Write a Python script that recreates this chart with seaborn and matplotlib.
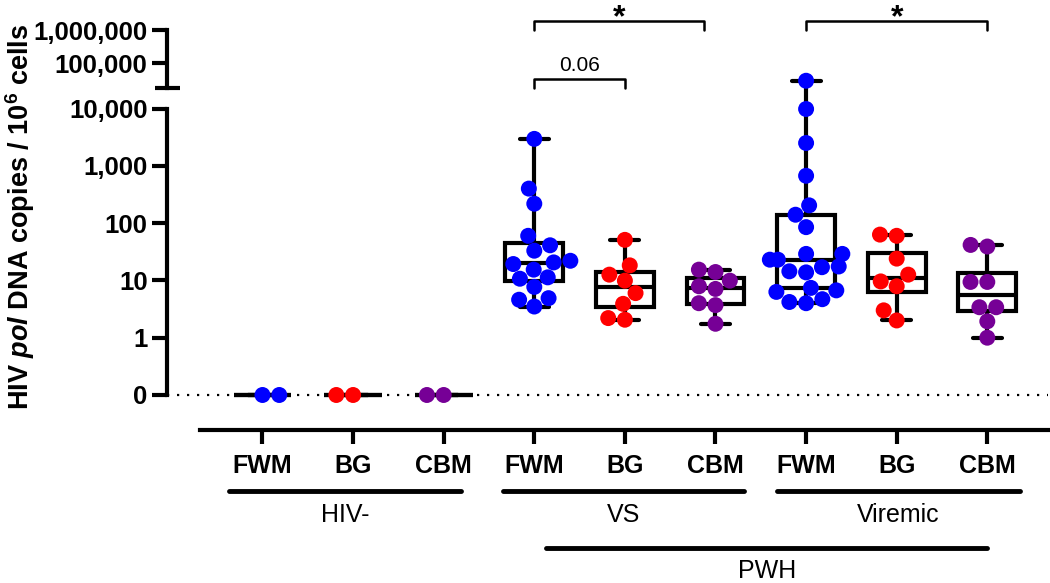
# HIV pol DNA by tissue - box + swarm on a broken log axis
import pandas as pd
import matplotlib.pyplot as plt
import matplotlib.transforms as mtransforms
from matplotlib.ticker import NullFormatter
import seaborn as sns

# categories
tissues = ["FWM", "BG", "CBM"]
cohorts = ["HIV-", "VS", "Viremic"]
tissue_colors = {"FWM": "#0000FF", "BG": "#FF0000", "CBM": "#760096"}

# copies / 10^6 cells (0 = undetected)
hivneg_fwm = [0, 0]
hivneg_bg = [0, 0]
hivneg_cbm = [0, 0]
vs_fwm = [2950, 400, 218, 60, 41, 33, 22, 20.6, 19.3, 15.4, 11.3, 10.7, 7.7, 4.9, 4.6, 3.5]
vs_bg = [51, 18.3, 12.6, 9.9, 6.0, 3.9, 2.2, 2.06]
vs_cbm = [15.4, 14.0, 9.9, 7.9, 7.1, 4.0, 3.7, 1.75]
vir_fwm = [30500, 9800, 2500, 670, 204, 140, 85, 29, 29, 23, 23, 17.5, 17, 14.4, 13.8,
           7.4, 6.7, 6.3, 4.7, 4.2, 4.0]
vir_bg = [63, 60, 24, 12.6, 9.6, 7.9, 3.0, 2.0]
vir_cbm = [41.6, 39, 9.4, 9.4, 3.4, 3.4, 1.93, 1.0]

# y tick labels
low_ticks = [0.1, 1, 10, 100, 1000, 10000]
low_labels = ["0", "1", "10", "100", "1,000", "10,000"]
high_ticks = [1e5, 1e6]
high_labels = ["100,000", "1,000,000"]

ZERO_AT = 0.1  # the "0" row sits one decade under 1

groups = {
    ("HIV-", "FWM"): hivneg_fwm, ("HIV-", "BG"): hivneg_bg, ("HIV-", "CBM"): hivneg_cbm,
    ("VS", "FWM"): vs_fwm, ("VS", "BG"): vs_bg, ("VS", "CBM"): vs_cbm,
    ("Viremic", "FWM"): vir_fwm, ("Viremic", "BG"): vir_bg, ("Viremic", "CBM"): vir_cbm,
}
rows = []
for (cohort, tissue), vals in groups.items():
    for v in vals:
        rows.append({"group": f"{cohort} {tissue}", "tissue": tissue,
                     "value": v if v > 0 else ZERO_AT})
df = pd.DataFrame(rows)
order = [f"{c} {t}" for c in cohorts for t in tissues]

sns.set_style("ticks")
plt.rcParams["font.family"] = ["Liberation Sans", "DejaVu Sans"]
plt.rcParams["mathtext.fontset"] = "custom"
plt.rcParams["mathtext.rm"] = "Liberation Sans:bold"
plt.rcParams["mathtext.bf"] = "Liberation Sans:bold"
plt.rcParams["mathtext.it"] = "Liberation Sans:bold:italic"
for key in ["text.color", "axes.labelcolor", "axes.edgecolor", "xtick.color", "ytick.color"]:
    plt.rcParams[key] = "black"

W, H = 1050, 583
fig = plt.figure(figsize=(W / 100, H / 100), dpi=100)


def px_y(py):
    # pixel row -> value on the lower (main) log axis
    return 10 ** (-1 + (395 - py) / 57.3)


ax = fig.add_axes([167 / W, 1 - 430 / H, 881 / W, 415 / H])
ax.set_facecolor("none")
ax.axhline(ZERO_AT, color="black", lw=1.6, ls=(0, (1, 3.5)), zorder=0)
sns.boxplot(data=df, x="group", y="value", order=order, log_scale=True,
            whis=(0, 100), showfliers=False, width=0.64, color="white",
            linecolor="black", linewidth=3, ax=ax)
sns.swarmplot(data=df, x="group", y="value", order=order, hue="tissue",
              palette=tissue_colors, size=11.5, legend=False, linewidth=0,
              zorder=3, ax=ax)

ax.set_xlim(-1.054, 8.67)
ax.set_ylim(10 ** -1.611, 10 ** 5.632)
ax.set_xlabel("")
ax.set_ylabel("")
sns.despine(ax=ax)
ax.spines["left"].set_bounds(0.1, 1e4)
ax.spines["bottom"].set_bounds(-0.69, 8.67)
for s in ["left", "bottom"]:
    ax.spines[s].set_linewidth(3)

ax.set_yticks(low_ticks, low_labels, fontweight="bold")
ax.set_yticks([1e4], minor=True)
ax.yaxis.set_minor_formatter(NullFormatter())
ax.tick_params(axis="y", which="major", length=11, width=3, labelsize=18.5, pad=3)
ax.tick_params(axis="y", which="minor", direction="inout", length=18, width=3)
ax.set_xticks(range(len(order)), tissues * 3, fontweight="bold")
ax.tick_params(axis="x", length=10, width=3, labelsize=18, pad=7)

# upper segment of the broken axis
ax_top = fig.add_axes([167 / W, 1 - 100 / H, 881 / W, 85 / H])
ax_top.set_facecolor("none")
ax_top.set_yscale("log")
ax_top.set_ylim(10 ** 3.879, 10 ** 6.4545)
for s in ["top", "right", "bottom"]:
    ax_top.spines[s].set_visible(False)
ax_top.spines["left"].set_linewidth(3)
ax_top.spines["left"].set_bounds(10 ** 4.242, 1e6)
ax_top.set_xticks([])
ax_top.set_yticks(high_ticks, high_labels, fontweight="bold")
ax_top.set_yticks([10 ** 4.242], minor=True)
ax_top.yaxis.set_minor_formatter(NullFormatter())
ax_top.tick_params(axis="y", which="major", length=11, width=3, labelsize=18.5, pad=3)
ax_top.tick_params(axis="y", which="minor", direction="inout", length=18, width=3)


# significance brackets
def bracket(x0, x1, py_line, py_end, label, size, weight, py_text):
    ax.plot([x0, x0, x1, x1], [px_y(py_end), px_y(py_line), px_y(py_line), px_y(py_end)],
            color="black", lw=1.8, clip_on=False)
    ax.text((x0 + x1) / 2, px_y(py_text), label, ha="center", va="baseline",
            fontsize=size, fontweight=weight)


bracket(3, 4.87, 21, 30, "*", 23, "bold", 26)
bracket(3, 4, 79, 88, "0.06", 15, "normal", 71)
bracket(6, 8, 21, 30, "*", 23, "bold", 26)

# cohort group lines under the axis
trans = mtransforms.blended_transform_factory(ax.transData, fig.transFigure)
cohort_spans = {"HIV-": (-0.37, 2.19), "VS": (2.65, 5.31), "Viremic": (5.68, 8.36)}
for name, (x0, x1) in cohort_spans.items():
    ax.plot([x0, x1], [1 - 491 / H] * 2, color="black", lw=3.5, transform=trans, clip_on=False)
    ax.text((x0 + x1) / 2, 1 - 515 / H, name, ha="center", va="center", fontsize=18,
            transform=trans)
ax.plot([3.13, 8.0], [1 - 548 / H] * 2, color="black", lw=3.5, transform=trans, clip_on=False)
ax.text((3.13 + 8.0) / 2, 1 - 571 / H, "PWH", ha="center", va="center", fontsize=18,
        transform=trans)

fig.text(20 / W, 1 - 217 / H, r"HIV $\mathit{pol}$ DNA copies / 10$^{\mathrm{6}}$ cells",
         rotation=90, ha="center", va="center", fontsize=19.5, fontweight="bold")

fig.savefig("out.png", dpi=100)
